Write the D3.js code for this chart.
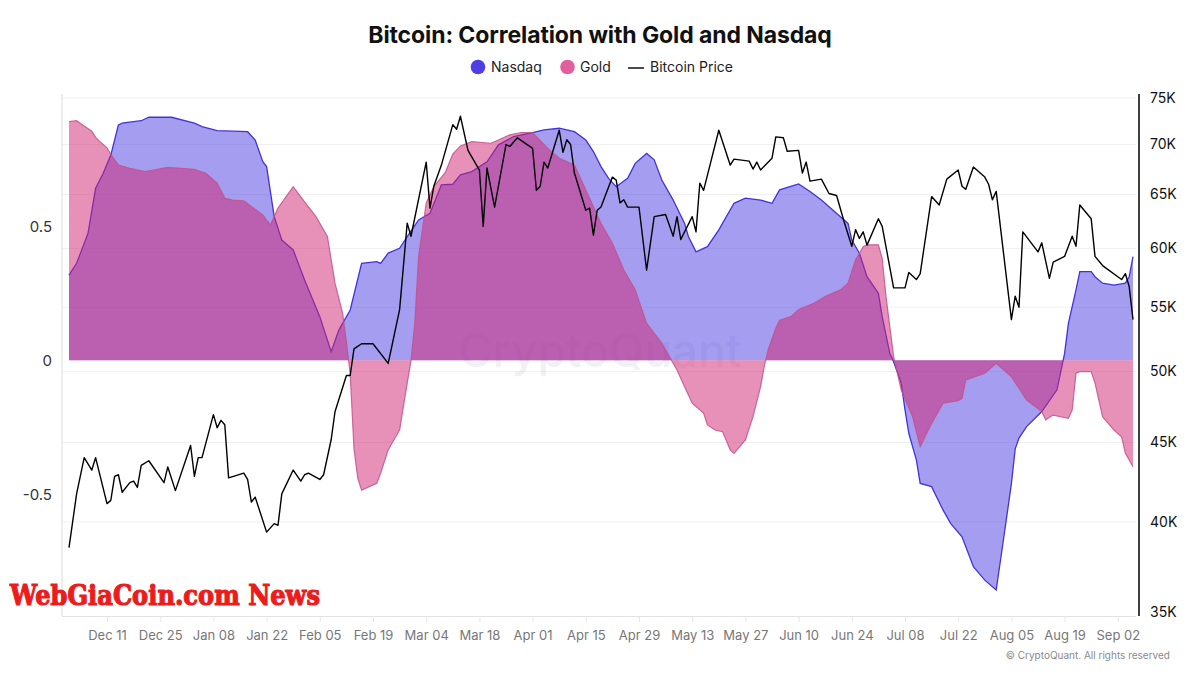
<!DOCTYPE html>
<html><head><meta charset="utf-8">
<script src="https://cdn.jsdelivr.net/npm/d3@7"></script>
<style>
body{margin:0;background:#fff;}
svg{display:block;font-family:Inter,"Noto Sans",sans-serif;}
</style>
</head><body>
<svg id="chart" width="1200" height="675"></svg>
<script>
// ---------------- DATA ----------------
const nasdaqDates = ["2023-12-01","2023-12-03","2023-12-06","2023-12-08","2023-12-10","2023-12-12","2023-12-14","2023-12-15","2023-12-20","2023-12-22","2023-12-28","2024-01-03","2024-01-05","2024-01-09","2024-01-17","2024-01-19","2024-01-21","2024-01-22","2024-01-24","2024-01-26","2024-01-29","2024-02-01","2024-02-05","2024-02-08","2024-02-10","2024-02-13","2024-02-16","2024-02-20","2024-02-21","2024-02-23","2024-02-26","2024-02-28","2024-03-02","2024-03-05","2024-03-08","2024-03-11","2024-03-13","2024-03-16","2024-03-20","2024-03-23","2024-03-27","2024-04-01","2024-04-04","2024-04-08","2024-04-12","2024-04-15","2024-04-17","2024-04-19","2024-04-21","2024-04-23","2024-04-26","2024-04-28","2024-05-01","2024-05-03","2024-05-05","2024-05-08","2024-05-11","2024-05-12","2024-05-14","2024-05-17","2024-05-20","2024-05-24","2024-05-27","2024-05-31","2024-06-03","2024-06-05","2024-06-09","2024-06-10","2024-06-13","2024-06-16","2024-06-18","2024-06-21","2024-06-23","2024-06-24","2024-06-26","2024-06-28","2024-07-01","2024-07-02","2024-07-04","2024-07-05","2024-07-07","2024-07-08","2024-07-09","2024-07-11","2024-07-12","2024-07-15","2024-07-18","2024-07-20","2024-07-23","2024-07-26","2024-07-29","2024-08-01","2024-08-03","2024-08-05","2024-08-06","2024-08-07","2024-08-09","2024-08-13","2024-08-17","2024-08-19","2024-08-20","2024-08-22","2024-08-23","2024-08-26","2024-08-27","2024-08-29","2024-09-01","2024-09-04","2024-09-05","2024-09-06"];
const nasdaqValues = [0.318,0.362,0.474,0.642,0.698,0.766,0.878,0.885,0.894,0.907,0.907,0.885,0.872,0.857,0.853,0.822,0.741,0.723,0.536,0.449,0.412,0.30,0.163,0.032,0.113,0.188,0.362,0.368,0.362,0.40,0.418,0.462,0.524,0.549,0.655,0.657,0.692,0.704,0.741,0.804,0.835,0.85,0.86,0.866,0.853,0.822,0.779,0.723,0.679,0.648,0.679,0.735,0.772,0.748,0.673,0.598,0.511,0.462,0.405,0.424,0.487,0.586,0.605,0.598,0.586,0.636,0.654,0.658,0.63,0.598,0.573,0.536,0.511,0.449,0.40,0.312,0.25,0.163,0.026,-0.005,-0.085,-0.185,-0.272,-0.372,-0.459,-0.471,-0.558,-0.608,-0.658,-0.77,-0.82,-0.857,-0.66,-0.46,-0.33,-0.29,-0.247,-0.191,-0.11,0.026,0.138,0.263,0.331,0.331,0.312,0.288,0.281,0.288,0.312,0.387];

const goldDates = ["2023-12-01","2023-12-03","2023-12-05","2023-12-07","2023-12-08","2023-12-09","2023-12-11","2023-12-12","2023-12-14","2023-12-17","2023-12-21","2023-12-27","2024-01-03","2024-01-06","2024-01-09","2024-01-11","2024-01-13","2024-01-16","2024-01-18","2024-01-21","2024-01-23","2024-01-25","2024-01-29","2024-02-02","2024-02-04","2024-02-07","2024-02-09","2024-02-11","2024-02-12","2024-02-13","2024-02-14","2024-02-15","2024-02-16","2024-02-20","2024-02-21","2024-02-23","2024-02-24","2024-02-26","2024-02-28","2024-02-29","2024-03-01","2024-03-02","2024-03-04","2024-03-06","2024-03-09","2024-03-11","2024-03-13","2024-03-16","2024-03-21","2024-03-23","2024-03-26","2024-03-29","2024-04-01","2024-04-03","2024-04-05","2024-04-08","2024-04-12","2024-04-15","2024-04-19","2024-04-22","2024-04-25","2024-04-28","2024-05-01","2024-05-05","2024-05-07","2024-05-09","2024-05-11","2024-05-13","2024-05-16","2024-05-17","2024-05-19","2024-05-21","2024-05-23","2024-05-24","2024-05-27","2024-05-29","2024-05-31","2024-06-01","2024-06-02","2024-06-04","2024-06-05","2024-06-08","2024-06-10","2024-06-14","2024-06-17","2024-06-21","2024-06-23","2024-06-25","2024-06-27","2024-06-28","2024-07-01","2024-07-02","2024-07-03","2024-07-05","2024-07-07","2024-07-10","2024-07-12","2024-07-15","2024-07-18","2024-07-22","2024-07-23","2024-07-24","2024-07-29","2024-08-01","2024-08-05","2024-08-09","2024-08-13","2024-08-14","2024-08-16","2024-08-20","2024-08-21","2024-08-22","2024-08-23","2024-08-26","2024-08-27","2024-08-29","2024-09-01","2024-09-03","2024-09-04","2024-09-06"];
const goldValues = [0.891,0.894,0.874,0.855,0.832,0.818,0.793,0.768,0.729,0.716,0.704,0.72,0.713,0.698,0.661,0.605,0.598,0.595,0.574,0.543,0.505,0.568,0.648,0.573,0.536,0.462,0.288,0.176,0.07,-0.05,-0.33,-0.44,-0.484,-0.459,-0.421,-0.334,-0.309,-0.26,-0.085,0.0,0.138,0.387,0.586,0.648,0.70,0.77,0.80,0.816,0.81,0.822,0.841,0.85,0.85,0.82,0.791,0.754,0.729,0.636,0.511,0.437,0.337,0.263,0.138,0.064,0.014,-0.036,-0.098,-0.16,-0.197,-0.241,-0.26,-0.266,-0.334,-0.347,-0.297,-0.21,-0.098,-0.02,0.04,0.12,0.15,0.163,0.19,0.213,0.238,0.263,0.288,0.375,0.424,0.431,0.431,0.38,0.238,0.014,-0.11,-0.21,-0.322,-0.235,-0.16,-0.15,-0.142,-0.073,-0.048,-0.011,-0.061,-0.148,-0.191,-0.222,-0.204,-0.216,-0.185,-0.048,-0.042,-0.042,-0.085,-0.21,-0.26,-0.285,-0.347,-0.397];

const btcDates = ["2023-12-01","2023-12-03","2023-12-05","2023-12-07","2023-12-08","2023-12-11","2023-12-12","2023-12-13","2023-12-14","2023-12-15","2023-12-17","2023-12-18","2023-12-19","2023-12-20","2023-12-22","2023-12-26","2023-12-27","2023-12-29","2024-01-02","2024-01-03","2024-01-04","2024-01-05","2024-01-08","2024-01-09","2024-01-10","2024-01-11","2024-01-12","2024-01-16","2024-01-17","2024-01-18","2024-01-19","2024-01-22","2024-01-24","2024-01-25","2024-01-26","2024-01-29","2024-01-31","2024-02-01","2024-02-02","2024-02-05","2024-02-06","2024-02-08","2024-02-09","2024-02-12","2024-02-13","2024-02-14","2024-02-16","2024-02-19","2024-02-23","2024-02-26","2024-02-28","2024-02-29","2024-03-04","2024-03-05","2024-03-06","2024-03-08","2024-03-11","2024-03-12","2024-03-13","2024-03-15","2024-03-18","2024-03-19","2024-03-20","2024-03-22","2024-03-25","2024-03-26","2024-03-28","2024-04-01","2024-04-02","2024-04-03","2024-04-04","2024-04-05","2024-04-08","2024-04-09","2024-04-10","2024-04-11","2024-04-12","2024-04-15","2024-04-16","2024-04-17","2024-04-18","2024-04-19","2024-04-22","2024-04-23","2024-04-24","2024-04-25","2024-04-26","2024-04-29","2024-05-01","2024-05-03","2024-05-06","2024-05-08","2024-05-09","2024-05-10","2024-05-13","2024-05-14","2024-05-15","2024-05-16","2024-05-20","2024-05-23","2024-05-24","2024-05-28","2024-05-29","2024-05-30","2024-05-31","2024-06-03","2024-06-04","2024-06-06","2024-06-07","2024-06-10","2024-06-11","2024-06-12","2024-06-13","2024-06-16","2024-06-18","2024-06-20","2024-06-22","2024-06-24","2024-06-25","2024-06-26","2024-06-27","2024-06-28","2024-07-01","2024-07-02","2024-07-05","2024-07-08","2024-07-09","2024-07-11","2024-07-12","2024-07-15","2024-07-17","2024-07-19","2024-07-22","2024-07-23","2024-07-24","2024-07-26","2024-07-29","2024-07-30","2024-07-31","2024-08-01","2024-08-05","2024-08-06","2024-08-07","2024-08-08","2024-08-12","2024-08-13","2024-08-15","2024-08-16","2024-08-19","2024-08-21","2024-08-22","2024-08-23","2024-08-26","2024-08-27","2024-08-29","2024-09-03","2024-09-04","2024-09-05","2024-09-06"];
const btcValues = [38500,41700,44000,43200,44000,41100,41300,42800,42900,41800,42400,42500,42100,43500,43800,42400,43400,41900,44800,42800,44000,44000,46900,46000,46500,46200,42700,43000,42600,41200,41500,39400,39900,39800,41700,43200,42500,42900,43000,42600,42900,45200,47100,49700,49700,51700,52100,52100,50600,54800,62300,61100,68200,63700,65800,67900,72100,71600,73000,69400,67400,62000,67600,63800,70000,69800,70700,69600,65400,65800,68200,67600,71500,69200,70500,70000,67100,63500,63700,61200,63500,63800,66700,66400,64200,64500,63800,63800,58100,62900,63100,61100,62900,60800,62900,61500,66100,65400,71500,67900,68500,68300,67500,68200,67400,68600,70800,70700,69300,69400,67100,68200,66300,66500,65100,64900,62400,60200,61700,60900,61500,60300,62700,62000,56600,56600,57900,57300,57800,64800,64000,66500,67400,65800,65500,67700,66700,66000,64500,65300,54000,55900,55000,61500,59700,60500,57400,58800,59300,61100,60200,64000,62700,59300,58500,57300,57800,56700,54000];

const xTickDates = ["2023-12-11","2023-12-25","2024-01-08","2024-01-22","2024-02-05","2024-02-19","2024-03-04","2024-03-18","2024-04-01","2024-04-15","2024-04-29","2024-05-13","2024-05-27","2024-06-10","2024-06-24","2024-07-08","2024-07-22","2024-08-05","2024-08-19","2024-09-02"];
const leftTicks = [-0.5, 0, 0.5];
const rightTicks = [35000,40000,45000,50000,55000,60000,65000,70000,75000];
const legendItems = ["Nasdaq","Gold","Bitcoin Price"];

// ---------------- SETUP ----------------
const parse = d3.timeParse("%Y-%m-%d");
const svg = d3.select("#chart");
const C = {nasdaq:"#4b3be1", gold:"#d12371", nasdaqLeg:"#4f3ee6", goldLeg:"#e0609d"};

const x = d3.scaleTime().domain([parse("2023-12-01"), parse("2024-09-06")]).range([69, 1133]);
const yL = d3.scaleLinear().domain([-0.95, 0.99]).range([615, 95]);
const yR = d3.scaleLog().domain([35000, 75000]).range([612, 98]);

const nasdaq = nasdaqDates.map((d,i)=>({date:parse(d), v:nasdaqValues[i]}));
const gold = goldDates.map((d,i)=>({date:parse(d), v:goldValues[i]}));
const btc = btcDates.map((d,i)=>({date:parse(d), v:btcValues[i]}));

// gridlines (follow right axis)
svg.append("g").selectAll("line").data(rightTicks.slice(1)).join("line")
  .attr("x1", 62).attr("x2", 1136)
  .attr("y1", d=>yR(d)).attr("y2", d=>yR(d))
  .attr("stroke", "#f0f0f0").attr("stroke-width", 1);

// frame line
svg.append("line").attr("x1",62).attr("x2",62).attr("y1",94).attr("y2",616)
  .attr("stroke","#dcdcdc");

// x axis
const xAxis = d3.axisBottom(x).tickValues(xTickDates.map(parse))
  .tickFormat(d3.timeFormat("%b %d")).tickSize(6).tickPadding(9);
const gx = svg.append("g").attr("transform","translate(0,616)").call(xAxis);
gx.select(".domain").attr("stroke","#e2e2e2").attr("d","M62,0.5H1136");
gx.selectAll(".tick line").attr("stroke","#e6e6e6");
gx.selectAll("text").attr("fill","#777").style("font-size","13px").style("font-family","Inter, sans-serif");

// left axis labels
svg.append("g").selectAll("text").data(leftTicks).join("text")
  .attr("x", 52).attr("y", d=>yL(d)).attr("dy","0.35em")
  .attr("text-anchor","end").attr("fill","#333").style("font-size","15px")
  .text(d=>String(d));

// watermark
svg.append("text").attr("x", 600).attr("y", 367).attr("text-anchor","middle")
  .style("font-size","46px").style("font-weight","500").attr("fill","#9a9ab0").attr("opacity",0.13)
  .text("CryptoQuant");

// areas
const area = d3.area().x(d=>x(d.date)).y0(yL(0)).y1(d=>yL(d.v));
const line = d3.line().x(d=>x(d.date)).y(d=>yL(d.v));

svg.append("path").datum(nasdaq).attr("d", area).attr("fill", C.nasdaq).attr("fill-opacity", 0.5);
svg.append("path").datum(nasdaq).attr("d", line).attr("fill","none").attr("stroke","#4333d6").attr("stroke-width",1.3);
svg.append("path").datum(gold).attr("d", area).attr("fill", C.gold).attr("fill-opacity", 0.5);
svg.append("path").datum(gold).attr("d", line).attr("fill","none").attr("stroke","#c2528c").attr("stroke-width",1.2).attr("stroke-opacity",0.85);

// bitcoin price line
const btcLine = d3.line().x(d=>x(d.date)).y(d=>yR(d.v));
svg.append("path").datum(btc).attr("d", btcLine).attr("fill","none")
  .attr("stroke","#000").attr("stroke-width",1.4).attr("stroke-linejoin","round");

// right axis
svg.append("line").attr("x1",1139).attr("x2",1139).attr("y1",94).attr("y2",616)
  .attr("stroke","#000").attr("stroke-width",1.5);
svg.append("g").selectAll("text").data(rightTicks).join("text")
  .attr("x", 1150).attr("y", d=>yR(d)).attr("dy","0.35em")
  .attr("fill","#111").style("font-size","14px")
  .text(d=>(d/1000)+"K");

// title
svg.append("text").attr("x", 600).attr("y", 43).attr("text-anchor","middle")
  .style("font-size","23px").style("font-weight","700").style("letter-spacing","-0.1px")
  .attr("fill","#111").text("Bitcoin: Correlation with Gold and Nasdaq");

// legend
const lg = svg.append("g").style("font-size","14px").attr("fill","#222");
lg.append("circle").attr("cx",478).attr("cy",67).attr("r",7.3).attr("fill",C.nasdaqLeg);
lg.append("text").attr("x",491).attr("y",72).text(legendItems[0]);
lg.append("circle").attr("cx",567.5).attr("cy",67).attr("r",7.3).attr("fill",C.goldLeg);
lg.append("text").attr("x",580).attr("y",72).text(legendItems[1]);
lg.append("line").attr("x1",628).attr("x2",644).attr("y1",68).attr("y2",68).attr("stroke","#111").attr("stroke-width",1.5);
lg.append("text").attr("x",650).attr("y",72).text(legendItems[2]);

// copyright
svg.append("text").attr("x",1170).attr("y",659).attr("text-anchor","end")
  .style("font-size","10px").attr("fill","#8a8a8a").text("© CryptoQuant. All rights reserved");

// overlay brand text
svg.append("text").attr("x",10).attr("y",605)
  .style("font-family","'DejaVu Serif', serif").style("font-weight","700").style("font-size","28px")
  .attr("textLength",310).attr("lengthAdjust","spacingAndGlyphs")
  .attr("fill","#ec1c1c").attr("stroke","#ec1c1c").attr("stroke-width",1.2)
  .text("WebGiaCoin.com News");
</script>
</body></html>
